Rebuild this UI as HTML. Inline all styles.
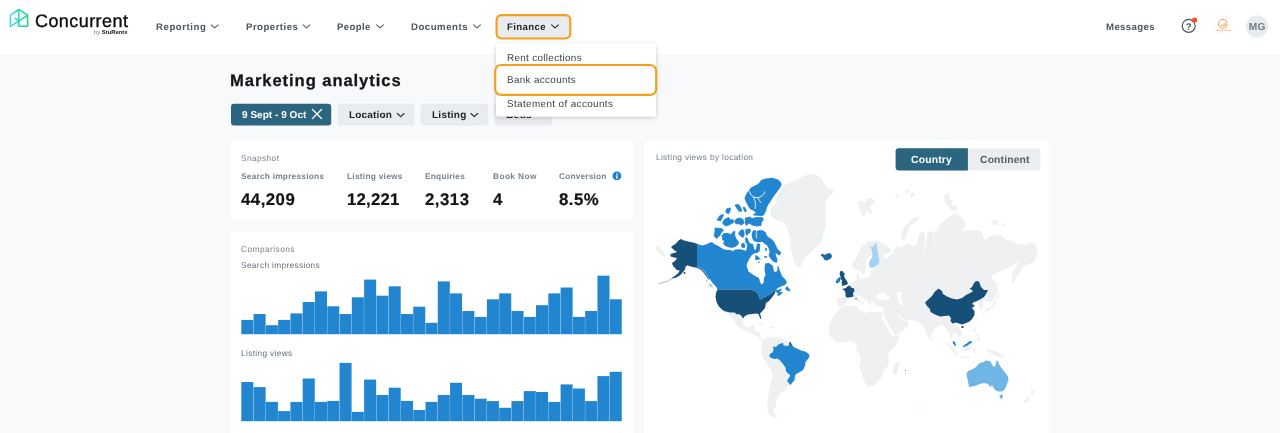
<!DOCTYPE html>
<html><head><meta charset="utf-8">
<style>
*{box-sizing:border-box;margin:0;padding:0}
html,body{width:1280px;height:433px;overflow:hidden;background:#f8f9fa;font-family:"Liberation Sans",sans-serif;}
.abs{position:absolute;white-space:nowrap;line-height:1;will-change:transform;text-rendering:geometricPrecision}
#hdr{position:absolute;left:0;top:0;width:1280px;height:54px;background:#fff}
.nav{font-weight:bold;font-size:11px;color:#4b5660}
.card{position:absolute;background:#fff;border-radius:5px}
.lbl{font-size:9px;color:#6c757d}
.lblb{font-size:9px;color:#7a848d;font-weight:bold}
.num{font-size:16.5px;font-weight:bold;color:#16191c}
.chip{position:absolute;top:103.5px;height:22px;border-radius:3px;background:#e9ecef}
.chiptxt{font-size:10.5px;font-weight:bold;color:#212529}
.dd{font-size:10.5px;color:#343a40}
</style></head><body>
<div id="hdr"></div>

<svg style="position:absolute;left:0;top:0" width="1280" height="433" viewBox="0 0 1280 433">
<rect x="496.60" y="15.20" width="73.70" height="23.30" rx="4.90" fill="#e9ecef" stroke="#f5a01d" stroke-width="2.2" />
<rect x="231.00" y="103.70" width="100.20" height="21.80" rx="3" fill="#2b6580" />
<rect x="337.50" y="103.70" width="77.00" height="21.80" rx="3" fill="#e9ecef" />
<rect x="420.60" y="103.70" width="67.60" height="21.80" rx="3" fill="#e9ecef" />
<rect x="494.30" y="103.70" width="57.90" height="21.80" rx="3" fill="#e9ecef" />
<rect x="229.60" y="140.00" width="403.80" height="80.50" rx="5" fill="#fff" />
<rect x="229.60" y="231.60" width="403.80" height="238.40" rx="5" fill="#fff" />
<rect x="644.60" y="140.00" width="404.00" height="330.00" rx="5" fill="#fff" />
<rect x="895.60" y="148.20" width="144.70" height="22.30" rx="3" fill="#ebedf0" />
<path fill="#2b6580" d="M898.6 148.2 H967.9 V170.5 H898.6 a3 3 0 0 1 -3 -3 V151.2 a3 3 0 0 1 3 -3Z"/>
</svg>
<!-- logo -->
<svg class="abs" style="left:0;top:0" width="140" height="54" viewBox="0 0 140 54">
<defs><linearGradient id="lg" x1="10" y1="0" x2="28" y2="0" gradientUnits="userSpaceOnUse"><stop offset="0" stop-color="#3fd9fb"/><stop offset="0.5" stop-color="#2ed8b5"/><stop offset="1" stop-color="#1fd672"/></linearGradient></defs>
<g fill="none" stroke="url(#lg)" stroke-width="1.55" stroke-linejoin="round" stroke-linecap="round">
<path d="M10.4 26.3 L10.4 15.1 L18.8 9.5 L27.6 15.1 L27.6 26.3 L18.8 26.3 L18.8 9.5"/>
<path d="M10.4 26.3 L27.4 15.6"/>
<path d="M15.1 18.2 L17.9 20.6"/>
</g></svg>
<div class="abs" id="bytxt" style="left:93.7px;top:30.6px;font-size:5.8px;color:#777;letter-spacing:0.02px">by <b style="color:#222">StuRents</b></div>

<!-- nav -->
<svg class="abs" style="left:0;top:0" width="600" height="54" fill="none" stroke="#56616b" stroke-width="1.1" stroke-linecap="round" stroke-linejoin="round">
<path d="M211.3 24.8 l3.4 3.1 l3.4 -3.1"/>
<path d="M303.1 24.8 l3.4 3.1 l3.4 -3.1"/>
<path d="M376.6 24.8 l3.4 3.1 l3.4 -3.1"/>
<path d="M473.6 24.8 l3.4 3.1 l3.4 -3.1"/>
<path stroke="#212529" d="M551.6 24.8 l3.4 3.1 l3.4 -3.1"/>
</svg>
<svg class="abs" style="left:1170px;top:0" width="110" height="54">
<circle cx="18.7" cy="25.9" r="6.5" fill="none" stroke="#4a545e" stroke-width="1.15"/>
<text x="18.7" y="29.5" font-family="Liberation Sans" font-weight="bold" font-size="9.6" text-anchor="middle" fill="#4a545e">?</text>
<circle cx="24.6" cy="20" r="2.6" fill="#ff4a26"/>
<circle cx="52.8" cy="23.8" r="4.4" fill="#fff" stroke="#f19a45" stroke-width="1"/>
<path d="M50 26.3 L52 24.2 L53.2 25 L55.6 22 L55.6 26.3 Z" fill="#f5b77c"/>
<path d="M45.5 30.4 H60.8" fill="none" stroke="#f7b87d" stroke-width="1.2" stroke-dasharray="1.1 0.5"/>
<path d="M49.5 32.4 H57" fill="none" stroke="#fbd9b6" stroke-width="0.6" stroke-dasharray="0.8 0.4"/>
<circle cx="87" cy="26.3" r="11.1" fill="#e9ecef"/>
<text x="87.2" y="29.8" font-family="Liberation Sans" font-weight="bold" font-size="10.2" letter-spacing="0.15" text-anchor="middle" fill="#6e7a84">MG</text>
</svg>

<!-- heading + chips -->
<svg class="abs" style="left:310px;top:106px" width="16" height="16" fill="none" stroke="#fff" stroke-width="1.3" stroke-linecap="round"><path d="M2.5 3.5 l9 9 M11.5 3.5 l-9 9"/></svg>
<div class="abs chiptxt" id="c4" style="left:505.5px;top:109.5px">Beds</div>
<svg class="abs" style="left:0;top:100px" width="600" height="30" fill="none" stroke="#212529" stroke-width="1.1" stroke-linecap="round" stroke-linejoin="round">
<path d="M397.3 13.5 l3.4 3.1 l3.4 -3.1"/>
<path d="M470.9 13.5 l3.4 3.1 l3.4 -3.1"/>
</svg>

<!-- cards -->

<svg class="abs" style="left:611.5px;top:171px" width="11" height="11"><circle cx="4.9" cy="4.9" r="4.4" fill="#1c7ed6"/><rect x="4.2" y="4.2" width="1.4" height="3.5" fill="#fff"/><rect x="4.2" y="2.2" width="1.4" height="1.3" fill="#fff"/></svg>

<svg class="abs" style="left:0;top:0" width="640" height="433" fill="#2185d0" shape-rendering="auto">
<rect x="241.30" y="319.9" width="12.03" height="14.3"/><rect x="253.58" y="314.0" width="12.03" height="20.2"/><rect x="265.86" y="325.2" width="12.03" height="9.0"/><rect x="278.14" y="319.9" width="12.03" height="14.3"/><rect x="290.42" y="313.4" width="12.03" height="20.8"/><rect x="302.70" y="302.0" width="12.03" height="32.2"/><rect x="314.98" y="291.4" width="12.03" height="42.8"/><rect x="327.26" y="306.3" width="12.03" height="27.9"/><rect x="339.55" y="314.0" width="12.03" height="20.2"/><rect x="351.83" y="297.3" width="12.03" height="36.9"/><rect x="364.11" y="279.6" width="12.03" height="54.6"/><rect x="376.39" y="295.7" width="12.03" height="38.5"/><rect x="388.67" y="286.3" width="12.03" height="47.9"/><rect x="400.95" y="314.0" width="12.03" height="20.2"/><rect x="413.23" y="306.7" width="12.03" height="27.5"/><rect x="425.51" y="322.8" width="12.03" height="11.4"/><rect x="437.79" y="281.4" width="12.03" height="52.8"/><rect x="450.07" y="293.4" width="12.03" height="40.8"/><rect x="462.35" y="311.0" width="12.03" height="23.2"/><rect x="474.63" y="316.9" width="12.03" height="17.3"/><rect x="486.91" y="299.3" width="12.03" height="34.9"/><rect x="499.19" y="293.4" width="12.03" height="40.8"/><rect x="511.47" y="311.0" width="12.03" height="23.2"/><rect x="523.75" y="316.9" width="12.03" height="17.3"/><rect x="536.04" y="305.2" width="12.03" height="29.0"/><rect x="548.32" y="293.4" width="12.03" height="40.8"/><rect x="560.60" y="287.5" width="12.03" height="46.7"/><rect x="572.88" y="316.9" width="12.03" height="17.3"/><rect x="585.16" y="311.0" width="12.03" height="23.2"/><rect x="597.44" y="275.7" width="12.03" height="58.5"/><rect x="609.72" y="299.3" width="12.03" height="34.9"/>
<rect x="241.30" y="382.0" width="12.03" height="39.2"/><rect x="253.58" y="387.1" width="12.03" height="34.1"/><rect x="265.86" y="401.9" width="12.03" height="19.3"/><rect x="278.14" y="411.1" width="12.03" height="10.1"/><rect x="290.42" y="401.9" width="12.03" height="19.3"/><rect x="302.70" y="378.5" width="12.03" height="42.7"/><rect x="314.98" y="401.9" width="12.03" height="19.3"/><rect x="327.26" y="400.9" width="12.03" height="20.3"/><rect x="339.55" y="362.9" width="12.03" height="58.3"/><rect x="351.83" y="411.9" width="12.03" height="9.3"/><rect x="364.11" y="379.6" width="12.03" height="41.6"/><rect x="376.39" y="395.0" width="12.03" height="26.2"/><rect x="388.67" y="387.7" width="12.03" height="33.5"/><rect x="400.95" y="400.9" width="12.03" height="20.3"/><rect x="413.23" y="410.0" width="12.03" height="11.2"/><rect x="425.51" y="401.9" width="12.03" height="19.3"/><rect x="437.79" y="395.0" width="12.03" height="26.2"/><rect x="450.07" y="382.8" width="12.03" height="38.4"/><rect x="462.35" y="395.0" width="12.03" height="26.2"/><rect x="474.63" y="398.7" width="12.03" height="22.5"/><rect x="486.91" y="401.1" width="12.03" height="20.1"/><rect x="499.19" y="407.8" width="12.03" height="13.4"/><rect x="511.47" y="401.1" width="12.03" height="20.1"/><rect x="523.75" y="391.1" width="12.03" height="30.1"/><rect x="536.04" y="392.0" width="12.03" height="29.2"/><rect x="548.32" y="401.9" width="12.03" height="19.3"/><rect x="560.60" y="384.4" width="12.03" height="36.8"/><rect x="572.88" y="388.5" width="12.03" height="32.7"/><rect x="585.16" y="401.1" width="12.03" height="20.1"/><rect x="597.44" y="376.1" width="12.03" height="45.1"/><rect x="609.72" y="371.8" width="12.03" height="49.4"/>
</svg>


<svg class="abs" style="left:0;top:0" width="1280" height="433" viewBox="0 0 1280 433">
<path fill="#eef0f2" d="M806 175 L812 173.5 L818 175.5 L823 180 L823.5 183 L826 186 L829 189 L834 189.5 L832 194 L828 198 L826 201 L825 208 L826.5 215 L825 222 L825.5 227 L823 233 L822 239 L820 243 L816.5 247 L813 250 L809 254 L805 258 L802 263 L800 268 L798 266.5 L795 264 L793.5 259 L792 253 L790 247 L791 243 L789.5 237 L788 231 L787.5 228 L786 226 L783 222 L778 220.5 L773 218 L770 212 L771 208 L777 202 L776 199 L778 194 L782 188 L785 185 L791 182.5 L798 179Z"/>
<path fill="#eef0f2" d="M858 202 L861 201 L865 202 L867 198.5 L871 198 L875 200 L873 204 L870 206 L872 213 L870 214 L867 210 L864 217 L862 215 L860 209 L858.5 205Z"/>
<path fill="#eef0f2" d="M724 311 L730 312.5 L734.5 312.5 L737 314.5 L739 314 L741.5 316 L743 318.5 L743 323 L744.5 326.5 L747.5 328 L751 326.5 L753 324.5 L755.5 325 L754.5 328 L754 330.5 L757.5 331.5 L760 333 L760.5 335.5 L761 338 L762.5 340 L765.5 340.5 L768 340 L765 342 L762 341.5 L759.5 339 L757 336 L754 334 L750 332.5 L747 331.5 L743 329.5 L739 327 L736 324.5 L734 320 L731 317 L728 314 L725 312.5Z"/>
<path fill="#eef0f2" d="M763 339.5 L766 337 L770 336.5 L774 337.5 L780 337 L783 339 L786 341 L789 342 L791.5 343 L793.5 347 L797 348.5 L801 350.5 L805 351.5 L808.5 353.5 L809.5 356 L808 359 L805.5 362 L805 366 L803 370 L799 372.5 L796 374 L795 376 L794.5 380 L792 383 L790.5 385 L787 387 L785 391 L780 393 L778 397 L775.5 402 L776.5 405 L773.5 409 L774 413 L777.5 417 L774 417.5 L770 415.5 L767.5 411 L767 406 L768 398 L769.5 390 L771 382 L772.5 376 L772 372 L770 368 L767 364 L764 359 L761.5 354 L761 350 L762 345 L763 340Z"/>
<path fill="#eef0f2" d="M840 308 L844 306.5 L850 306 L857 306 L858 309 L862 311 L866 313.5 L869 311.5 L874 312 L880 312.5 L882 312 L882 317 L884.5 323 L888 329.5 L892 335.5 L893 336.5 L897 336 L900 335 L899 339 L896 345 L892 349 L889 352 L888 355 L889 360 L889 364 L886 368 L883 370 L884 373 L882 375 L881 378 L878 382 L874 385.5 L868 386.5 L866 385 L864 380 L862 376 L862 373 L860 369 L859 365 L861 360 L859 353 L856 349 L857 344.5 L854 343 L850 341 L844 342 L837 342.5 L833 339 L830 336 L828.5 332 L828.5 327 L830 322 L833 318 L836 313Z"/>
<path fill="#eef0f2" d="M898.5 361 L899.5 364 L898 369 L896.5 374 L894.5 375.5 L892.5 374 L893 369 L894 365 L896.5 363Z"/>
<path fill="#eef0f2" d="M861 247 L863 245 L868 242 L873 240.5 L878 240.5 L882 243 L886 245 L890 248 L891 252 L888 254 L885 253.5 L884 257 L886 259 L890 256 L893 252 L895 248 L898 246 L900 248 L904 246 L908 243 L910 245 L916 246 L918 240 L920 233 L923 231 L925 236 L925.5 243 L927 240 L927 233 L932 231 L935 232 L938 229 L939 225 L945 220 L950 216 L956 213 L960 216 L964 220 L966 225 L962 230 L968 231 L977 230 L982 232 L984 239 L986 240 L988 237 L994 235 L997 234 L1002 236 L1007 240 L1014 241 L1016 244 L1024 244 L1026 246 L1027 243 L1032 243 L1036 245 L1037 250 L1037 255 L1035 261 L1031 263.5 L1026 265 L1022 268 L1018.5 274 L1015.5 279.5 L1012.5 283.5 L1011.5 279 L1012.5 273 L1015 268 L1018 264 L1020 261.5 L1016 263 L1013 265 L1008 268 L1002 270 L995 274 L990 278 L994 280 L997 284 L997 292 L995 298 L992 302 L988 302 L984 301 L982 302 L983 306 L982 310 L980 309.5 L979 305 L977 303 L976 301.5 L974 302 L972 304 L975 305.5 L972 308 L974.5 311 L974.5 315 L972 319 L969.5 321.5 L966 323 L962 324.5 L959 323.5 L957 324 L959 327 L961.5 331 L962 335 L960 337 L957 336 L956 333 L954 334 L952 336 L952 337 L952.5 341.5 L954.5 341.5 L955.5 343.5 L956 346 L954.5 345.5 L953 343.5 L951.5 340 L950 336 L949 332 L946.5 330 L945.5 327 L944 326 L943 325.5 L940 325 L937 327 L933 331 L931.5 335 L930.5 339.5 L929 339 L927 335 L925 331 L924 327 L921 324 L916 321 L910 320 L906 319.5 L907 320.5 L909 323 L906 328 L900 333 L895 335.5 L893.5 333.5 L890 327.5 L886.5 321 L884 316 L883 313 L883 311 L884 307 L880 306.5 L875 306 L874 302 L871 301 L871 306 L869.5 304 L868 302 L866 300 L864 299 L860 296 L858 294 L856 296 L859 299 L862 302 L864.5 304 L863 305 L861 302.5 L858 300.5 L855 298 L853.5 296.5 L851.5 297 L849 297.5 L846.5 297.5 L848 300 L846 303 L844 306 L840 306.5 L837.5 305 L837 301 L837 298 L841 297.5 L845.5 297 L845.5 292.5 L844.5 290.5 L842 289 L844.5 288.5 L846.5 287.5 L848 286 L850 285.5 L851 283.5 L854 281.5 L857 279 L856.5 275 L858 272 L859 276 L860 279 L864 278.5 L869 277 L871 274 L870 271 L874 269.5 L872 268 L879 267 L875 266.5 L871 268 L869 266 L869 262.5 L871 259 L872.5 256 L872 255 L869 257 L866 261 L865.5 265 L866 268 L865 272 L863 275 L860 272 L859 269 L856 271 L853 268 L852 265 L852.5 262 L855 260 L858 254Z"/>
<path fill="#eef0f2" d="M918 217 L919.5 218 L915 222 L910 226 L907.5 232 L906 238 L904 241 L901 237 L902 230 L905 226 L910 221 L914 218Z"/>
<path fill="#eef0f2" d="M944 197 L947 193 L949 194 L950 199 L953 201 L952 206 L956 205 L958 209 L955 211 L951 210 L948 206 L945 203Z"/>
<path fill="#eef0f2" d="M895 195 L898 194 L899 196 L896 198Z"/>
<path fill="#eef0f2" d="M905 191 L908 189 L909 192 L906 194Z"/>
<path fill="#eef0f2" d="M910 195 L914 192 L915 195 L911 198Z"/>
<path fill="#eef0f2" d="M991 221 L995 220 L999 222 L997 225 L993 225Z"/>
<path fill="#eef0f2" d="M1001 223 L1005 224.5 L1004 226 L1001 225Z"/>
<path fill="#eef0f2" d="M656 245.5 L659.5 247 L663 251 L666 256 L664.5 257.5 L661 255.5 L658 252.5 L656 250Z"/>
<path fill="#eef0f2" d="M656 238 L657.5 238 L657.5 239.5 L656 239.5Z"/>
<path fill="#eef0f2" d="M984.5 311.5 L986 308.5 L990 307 L993 304 L995 300 L996.5 300.5 L995 305 L992 308 L989 309.5 L986 312Z"/>
<path fill="#eef0f2" d="M996 297 L999 296 L1000 298 L997.5 299.5Z"/>
<path fill="#eef0f2" d="M983 311.5 L984.5 312 L984.5 314.5 L983 314Z"/>
<path fill="#eef0f2" d="M997.5 282 L998.5 282 L999 290 L998.5 296 L997.5 296 L998 289Z"/>
<path fill="#eef0f2" d="M977 318 L978.2 318 L978 321 L977 320.5Z"/>
<path fill="#eef0f2" d="M974 328 L976 329 L976 333 L974.5 332Z"/>
<path fill="#eef0f2" d="M976 334 L978.5 335 L978.5 337.5 L976.5 336.5Z"/>
<path fill="#eef0f2" d="M977 338 L980 338 L980 341 L977.5 341Z"/>
<path fill="#eef0f2" d="M962.5 347 L972 343 L971.5 347 L969 351 L965 351.5 L962.5 349Z"/>
<path fill="#eef0f2" d="M947 342 L952 347 L957 352 L959 355 L957.5 355.5 L952 351 L947.5 344.5Z"/>
<path fill="#eef0f2" d="M960 356 L965 356.2 L971 357.5 L971 358.5 L965 357.8 L960 357.3Z"/>
<path fill="#eef0f2" d="M972.5 348 L976 348 L975 350 L976 353 L974 353 L973 350.5Z"/>
<path fill="#eef0f2" d="M986 349 L992 350 L998 352 L1003 356 L1005 358 L1000 357.5 L996 356 L992 354 L988 352Z"/>
<path fill="#eef0f2" d="M1030 387 L1031.5 389.5 L1034.5 391.5 L1033 394.5 L1031 395 L1031.5 392Z"/>
<path fill="#eef0f2" d="M1030.5 395.5 L1029 399 L1026 403 L1023 402.5 L1025 400 L1028 396.5Z"/>
<path fill="#eef0f2" d="M931 338 L932.5 338.5 L932.5 341 L931.2 341Z"/>
<path fill="#eef0f2" d="M757 323 L761 323.6 L765 325.5 L764.5 326.3 L760.5 324.8 L757 324Z"/>
<path fill="#eef0f2" d="M769 326.5 L774 326.8 L774 328 L769 328Z"/>
<path fill="#eef0f2" d="M782.5 411.5 L785 411.5 L785 412.5 L782.5 412.5Z"/>
<path fill="#eef0f2" d="M919 407 L921 407 L921 409 L919 409Z"/>
<path fill="#ffffff" d="M876 296 L880 293 L884 292 L886 295 L890 297 L889 299.5 L882 300 L877 299Z"/>
<path fill="#ffffff" d="M897 293 L900 292 L902 293 L901 297 L902 301 L903 305 L899.5 305 L899 300 L897 296Z"/>
<path fill="#ffffff" d="M897.5 313 L899 314 L901 317.5 L903.5 319.5 L906 319.3 L906 320.5 L903 321 L900 318.5 L898 315.5Z"/>
<path fill="#2185d0" d="M697 243.8 L702 245.5 L706 244.5 L709 243 L712 242 L714 244 L718 245.7 L723.6 249.3 L728 250 L732 250.2 L732.6 251.8 L734.9 249.6 L740.5 249.3 L744.4 250.2 L745.5 251.2 L746.7 248.5 L747.2 244 L745.6 242.9 L745 239.5 L746.1 237 L747.8 238.4 L748.9 241.7 L750 243.2 L752.9 244 L754 247.4 L754.6 250.2 L756 249 L756.8 244.5 L757.5 243.2 L760.2 244 L760 248 L759.6 251.3 L757 253 L754 253.5 L751.7 255.2 L749.5 258.6 L748.4 260.9 L747.2 263.1 L746.5 266 L747 267 L748.5 271.5 L752 274 L756 276.5 L759 278 L760 282 L761.5 284.5 L763.5 283 L764 278 L765.5 275 L764.5 270 L765 264.5 L765 263.5 L769 263 L772 265 L773 266.5 L774 271.5 L776 272 L777.5 270 L777.5 266.5 L778 265 L780 271 L782 276 L785 279 L787 282.5 L785 285 L781 286.5 L778 288 L775.5 290 L779 289.5 L782 288.5 L781 290.5 L779.5 291.5 L781 292 L783 291.5 L781.5 294 L778.5 296 L777 295 L778 293 L776.5 292.5 L775.5 291.5 L774.5 290.5 L772 293 L768 295.5 L763 298 L760 299.5 L759 297 L758 294 L755.5 291.5 L752 290 L746 289.5 L717.5 289.5 L716.3 287 L713 283.5 L710 279.5 L707.5 275.5 L705 272 L701.5 268.5 L697 266.5Z"/>
<path fill="#2185d0" d="M785 289 L787 286 L789.5 289 L790.5 291.5 L787 290.5Z"/>
<path fill="#2185d0" d="M755.4 255.2 L757.4 255.8 L759.6 258.1 L761 259.7 L758.5 259.2 L756.8 260.3 L755.1 259.2Z"/>
<path fill="#2185d0" d="M764.1 256.3 L767 256.1 L767 257.8 L764.3 257.8Z"/>
<path fill="#2185d0" d="M765.2 248.2 L767 248 L767 250.7 L765.2 250.5Z"/>
<path fill="#2185d0" d="M758 261.7 L759.6 261.7 L759.6 263.1 L758 263.1Z"/>
<path fill="#2185d0" d="M761 180 L766 178.5 L772 177.8 L778 179.5 L781.2 182.5 L781.5 185.5 L779.5 188.5 L777.5 191.5 L775.5 194 L774 196 L770 202 L767 207 L766 211 L764 215 L762 216 L754 215.5 L752.5 214.5 L756 213 L754 211 L750 209 L748 206 L746 202 L744.5 198.5 L745.5 195.5 L747.5 192 L750 189 L751 187.5 L755 185.5 L758 184 L760 182Z"/>
<path fill="#2185d0" stroke="#2185d0" stroke-width="0.8" stroke-linejoin="round" d="M735 205 L738.5 204.5 L740.5 207 L742 211 L739.5 211.5 L737 208.5Z"/>
<path fill="#2185d0" stroke="#2185d0" stroke-width="0.8" stroke-linejoin="round" d="M743 207.5 L744.5 207 L746.5 211 L745 212Z"/>
<path fill="#2185d0" stroke="#2185d0" stroke-width="0.8" stroke-linejoin="round" d="M725.5 212 L727 208.5 L730.5 208 L730 211 L728.5 214Z"/>
<path fill="#2185d0" stroke="#2185d0" stroke-width="0.8" stroke-linejoin="round" d="M717 220 L720 215.5 L723.5 214.5 L722.5 217.5 L720.5 221Z"/>
<path fill="#2185d0" stroke="#2185d0" stroke-width="0.8" stroke-linejoin="round" d="M722.5 222.5 L725 219 L729 217.5 L730 220 L733 219.5 L733.5 222.5 L729 225 L726 226 L723.5 224.5Z"/>
<path fill="#2185d0" stroke="#2185d0" stroke-width="0.8" stroke-linejoin="round" d="M734.5 221 L737 218.5 L740 218 L743 219.5 L744 223 L741.5 225 L738 223.5 L736 224Z"/>
<path fill="#2185d0" stroke="#2185d0" stroke-width="0.8" stroke-linejoin="round" d="M745.5 218 L750 217 L752 218.5 L756 217.5 L762 217.3 L763.5 219.5 L761.5 222 L761 225.5 L757 226 L752 225 L749 223 L746.5 225.5 L745 223Z"/>
<path fill="#2185d0" stroke="#2185d0" stroke-width="0.8" stroke-linejoin="round" d="M715 228 L721.5 228.5 L723.5 230 L721 233 L719.5 236 L716.5 238.5 L714 235.5 L715 232Z"/>
<path fill="#2185d0" d="M721.4 236.1 L723.6 233.3 L728.1 232.7 L730.4 234.4 L732.6 232.2 L734.3 230.5 L735.4 231.6 L734.9 235 L736.6 238.9 L739.1 242.3 L738.2 244.6 L736 246.5 L733 247.8 L729.2 247.6 L725.3 246 L723.1 243.5 L724.2 241.2 L721.9 239.5 L722.2 237.2Z"/>
<path fill="#2185d0" stroke="#2185d0" stroke-width="0.8" stroke-linejoin="round" d="M738.5 233.3 L740.5 230.5 L742.7 229.4 L743.9 231.6 L744.2 235 L742.7 237.8 L741.1 236.1 L739.4 235Z"/>
<path fill="#2185d0" stroke="#2185d0" stroke-width="0.8" stroke-linejoin="round" d="M745.8 229.4 L750.3 229.1 L750.1 232.2 L747.8 233.9 L746.7 235.6 L745.8 232.7Z"/>
<path fill="#2185d0" stroke="#2185d0" stroke-width="0.8" stroke-linejoin="round" d="M741.5 244 L744 243.2 L745 245.5 L744.5 247.5 L742 247.5Z"/>
<path fill="#2185d0" d="M751.7 235 L752.3 231.6 L754.6 229.9 L756.2 230.5 L757.4 231.1 L759.6 229.9 L763 230.5 L765.8 232.2 L766.4 235 L768.6 237.2 L771.4 238.9 L774.2 241.7 L775.4 244.6 L777.6 249.1 L781.3 252.4 L779.3 255.8 L777.6 254.1 L775.4 253.6 L776.5 256.9 L777.6 260.3 L776.5 263.1 L773.1 261.4 L770.3 258.6 L768.6 255.2 L769.7 251.9 L768.6 248.5 L766.9 245.1 L764.7 244 L762.4 241.7 L758.5 242.3 L754 241.2 L752.3 238.4Z"/>
<path fill="#164f77" d="M717.5 289.5 L746 289.5 L752 290 L755.5 291.5 L758 294 L759 297 L760 299.5 L763 298 L768 295.5 L772 293 L774.5 290.5 L775.5 291.5 L774.5 294 L771.5 298 L769 301 L766 303 L765.5 305.5 L765 308 L762.5 311 L760 313.5 L761 317 L761.5 319.5 L760 318 L758.5 314 L756 313.5 L752 314 L748 314.5 L745 316 L743 318.5 L741.5 316 L739 314 L737 314.5 L734.5 312.5 L730 312.5 L724 311 L721.5 309 L718.5 306 L716.5 302 L715.5 297 L716 293Z"/>
<path fill="#164f77" d="M697 243.8 L693 242.5 L688 241.5 L684 240.5 L681 239 L678.5 240.5 L676 243.5 L673 245.5 L671 247 L674 250 L677 252 L674 253 L670.5 254 L670.5 256.5 L674 257.5 L677 258 L675 261 L672 263 L673 266 L675.3 268.3 L676.3 269.8 L679.4 270.5 L679.4 271.5 L677.3 274.1 L674 276.5 L672 277.8 L672.5 278.6 L676.3 277.5 L680.4 275 L683.4 271.5 L685 269.5 L685.5 266.8 L687.5 265.2 L690 266.3 L693.6 267.3 L697 267.8Z"/>
<path fill="#164f77" d="M683.6 272 L685.3 271.8 L685.3 273.8 L683.8 274Z"/>
<path fill="#6fa9dc" d="M705.8 280.2 L707 280.5 L707.5 282 L706.3 281.8Z"/>
<path fill="#6fa9dc" d="M709 283.5 L711 285 L713 286.8 L712.3 287.3 L710 285.8 L708.6 284.2Z"/>
<path fill="#2185d0" d="M773 346.5 L776 347 L779 344 L783 343 L783.5 345.5 L787 346 L789.5 345 L792 344.5 L793.5 347 L797 348.5 L801 350.5 L805 351.5 L808.5 353.5 L809.5 356 L808 359 L805.5 362 L805 366 L803 370 L799 372.5 L796 374 L795 376 L794.5 380 L792 383 L790.5 385 L787 381 L790 376 L790 375 L786 371.5 L785.5 367.5 L783 364 L780 360.5 L777.5 358.5 L774.5 359 L771 358 L769 356 L770.5 353.5 L773 352 L773.5 349Z"/>
<path fill="#164f77" d="M789 342 L790.5 342.2 L791.5 344 L791.5 345.5 L789.5 345Z"/>
<path fill="#1b69a5" d="M821 254.5 L823 253.5 L824 255 L827.5 253.5 L830 253 L832 255.5 L831.5 258 L829 259.5 L826.5 260.5 L824 259.5 L823 257 L821 256Z"/>
<path fill="#a6d3f2" d="M869 245.5 L871 247 L874 246.5 L874.5 243.5 L876.5 243.5 L877 248 L878 253 L878.5 258 L879.5 261.5 L878 264.5 L875 266.5 L871 268 L869 266 L869 262.5 L871 259 L872.5 256 L872 251 L871 248Z"/>
<path fill="#164f77" d="M840 271.6 L842.2 270.7 L843.5 272.5 L844.9 273.8 L844 276 L844.9 278.2 L846.2 279.9 L847.5 282.1 L847.9 283.4 L846.6 284.7 L844 285.4 L841.8 285.9 L842.2 283.9 L841.4 282.5 L842.2 280.8 L840.9 279 L840.5 276.4 L839.6 274.2Z"/>
<path fill="#2185d0" d="M836.1 283.4 L835.8 281.2 L837 279 L839.2 277.7 L840.5 279 L840 281.2 L838.3 283Z"/>
<path fill="#164f77" d="M838.7 277.6 L840.5 277.6 L840.6 279.2 L839.3 279.2Z"/>
<path fill="#164f77" d="M842 289 L844.5 288.5 L846.5 287.5 L848 286 L850 285.5 L851 287.5 L854 288.5 L854.5 291 L853 293 L853.5 296.5 L851.5 297 L849 297.5 L846.5 297.5 L845.5 296 L845.5 292.5 L844.5 290.5Z"/>
<path fill="#164f77" d="M855.5 298 L856.5 298 L856.5 299.5 L855.5 299.5Z"/>
<path fill="#6f8fa8" d="M905 370 L906 370 L906 371 L905 371Z"/>
<path fill="#164f77" d="M925 302.5 L932 296 L934.5 292 L938.5 288.5 L942 291 L943 294 L947 296.5 L952 298.5 L957 299.5 L962 298 L966 295 L972 292 L973 290.5 L969.5 289 L972 287 L974 283 L976 281 L979 281.5 L981 287 L984 290 L988 290 L986 294 L984 297 L980 299.5 L976 301.5 L974 302 L972 304 L975 305.5 L972 308 L974.5 311 L974.5 315 L972 319 L969.5 321.5 L966 323 L962 324.5 L959 323.5 L956 322.5 L952.5 323.5 L950.5 321 L951 318 L949 315.5 L945 316 L940 316.5 L935 314.5 L930.5 312 L930 309 L927 306Z"/>
<path fill="#164f77" d="M961.5 326 L963.5 326 L963.5 328 L961.5 328Z"/>
<path fill="#2185d0" d="M952.5 341.5 L954.5 341.5 L955.5 343.5 L956 346 L954.5 345.5 L953 343.5Z"/>
<path fill="#2185d0" d="M962.5 346.5 L965 344.5 L967.5 343 L969.5 341 L971 341 L972 342.5 L969.5 344 L967.5 345.5 L965 346.5 L963.5 347Z"/>
<path fill="#6fb5e5" d="M966.5 373.5 L968 371 L972 369.5 L976 367 L978.5 364 L981 362.5 L984 362 L985.5 360.5 L990 361 L991 363 L993 366 L994.5 367 L996 364 L996.5 360 L998 361.5 L1000 366 L1003 370 L1006 373.5 L1008 376.5 L1008.5 380 L1007 384 L1005 389 L1002 391.5 L998 391.5 L995 390 L993 387 L992 385 L990.5 387 L989.5 386 L988 384 L984 383 L980 384 L976 385.5 L972 386.5 L969 387 L968.5 384 L967.5 379 L966.8 376Z"/>
<path fill="#6fb5e5" d="M999.5 395 L1003 394.5 L1002.5 398 L1001.5 399 L1000 397.5Z"/>
<path fill="none" stroke="#fff" stroke-width="0.9" stroke-linecap="round" stroke-linejoin="round" d="M749 191 L751 194.5 L753.5 197.2 L758 197.8 L761 196.5 L763.5 194.5 L765 191.8"/>
<path fill="none" stroke="#fff" stroke-width="0.8" stroke-linecap="round" stroke-linejoin="round" d="M758 197.8 L759 200 L761 202.5"/>
<path fill="none" stroke="#fff" stroke-width="0.8" stroke-linecap="round" stroke-linejoin="round" d="M753.5 197.2 L755 201 L755.5 205 L755 208.5"/>
<path fill="none" stroke="#fff" stroke-width="0.7" stroke-linecap="round" stroke-linejoin="round" d="M756.6 230.6 L756.2 234 L756.6 238"/>
<path fill="none" stroke="#7d9db6" stroke-width="0.7" stroke-linecap="round" stroke-linejoin="round" d="M672.3 278.2 L668.2 281 L662.1 282.8 L658.6 283.5"/>
<path fill="none" stroke="#3f6f96" stroke-width="1.3" stroke-linecap="round" stroke-linejoin="round" d="M697.5 267.3 L701 269.1 L704.3 272.6 L706.8 276 L708.7 278.8"/>
<path fill="none" stroke="#fff" stroke-width="0.9" stroke-linecap="round" stroke-linejoin="round" d="M925.8 232 L925.6 240 L925.4 248 L923.5 251.5 L921.8 252.8"/>
<path fill="none" stroke="#fff" stroke-width="0.7" stroke-linecap="round" stroke-linejoin="round" d="M933.4 233 L933.2 238 L934 242"/>
</svg>

<div class="abs" id="logotxt" style="left:34.94px;top:12px;font-size:18.0px;font-weight:normal;color:#0d0d0d;letter-spacing:0.429px;-webkit-text-stroke:0.35px #0d0d0d">Concurrent</div>
<div class="abs" id="n1" style="left:156.46px;top:23px;font-size:9.6px;font-weight:bold;color:#4b5660;letter-spacing:0.561px;">Reporting</div>
<div class="abs" id="n2" style="left:245.66px;top:23px;font-size:9.6px;font-weight:bold;color:#4b5660;letter-spacing:0.492px;">Properties</div>
<div class="abs" id="n3" style="left:337.36px;top:23px;font-size:9.6px;font-weight:bold;color:#4b5660;letter-spacing:0.396px;">People</div>
<div class="abs" id="n4" style="left:410.96px;top:23px;font-size:9.6px;font-weight:bold;color:#4b5660;letter-spacing:0.534px;">Documents</div>
<div class="abs" id="n5" style="left:507.06px;top:23px;font-size:9.6px;font-weight:bold;color:#23282d;letter-spacing:0.394px;">Finance</div>
<div class="abs" id="msg" style="left:1106.16px;top:23px;font-size:9.6px;font-weight:bold;color:#4b5660;letter-spacing:0.394px;">Messages</div>
<div class="abs" id="h1" style="left:230.47px;top:73px;font-size:16.6px;font-weight:bold;color:#111418;letter-spacing:0.924px;-webkit-text-stroke:0.25px #111418">Marketing analytics</div>
<div class="abs" id="c1" style="left:241.60px;top:111px;font-size:10.0px;font-weight:bold;color:#ffffff;letter-spacing:0.034px;">9 Sept - 9 Oct</div>
<div class="abs" id="c2" style="left:348.83px;top:111px;font-size:10.0px;font-weight:bold;color:#212529;letter-spacing:0.185px;">Location</div>
<div class="abs" id="c3" style="left:431.63px;top:111px;font-size:10.0px;font-weight:bold;color:#212529;letter-spacing:0.259px;">Listing</div>
<div class="abs" id="s0" style="left:240.59px;top:154px;font-size:8.3px;font-weight:normal;color:#777f87;letter-spacing:0.412px;">Snapshot</div>
<div class="abs" id="s1" style="left:240.69px;top:172px;font-size:8.3px;font-weight:bold;color:#78838d;letter-spacing:0.240px;">Search impressions</div>
<div class="abs" id="s2" style="left:346.53px;top:172px;font-size:8.3px;font-weight:bold;color:#78838d;letter-spacing:0.271px;">Listing views</div>
<div class="abs" id="s3" style="left:425.33px;top:172px;font-size:8.3px;font-weight:bold;color:#78838d;letter-spacing:0.255px;">Enquiries</div>
<div class="abs" id="s4" style="left:492.53px;top:172px;font-size:8.3px;font-weight:bold;color:#78838d;letter-spacing:0.411px;">Book Now</div>
<div class="abs" id="s5" style="left:559.49px;top:172px;font-size:8.3px;font-weight:bold;color:#78838d;letter-spacing:0.192px;">Conversion</div>
<div class="abs" id="v1" style="left:241.33px;top:192px;font-size:16.8px;font-weight:bold;color:#121417;letter-spacing:0.484px;-webkit-text-stroke:0.2px #121417">44,209</div>
<div class="abs" id="v2" style="left:346.82px;top:192px;font-size:16.8px;font-weight:bold;color:#121417;letter-spacing:0.184px;-webkit-text-stroke:0.2px #121417">12,221</div>
<div class="abs" id="v3" style="left:425.32px;top:192px;font-size:16.8px;font-weight:bold;color:#121417;letter-spacing:0.497px;-webkit-text-stroke:0.2px #121417">2,313</div>
<div class="abs" id="v4" style="left:492.53px;top:192px;font-size:16.8px;font-weight:bold;color:#121417;letter-spacing:0.000px;-webkit-text-stroke:0.2px #121417">4</div>
<div class="abs" id="v5" style="left:559.31px;top:192px;font-size:16.8px;font-weight:bold;color:#121417;letter-spacing:0.501px;-webkit-text-stroke:0.2px #121417">8.5%</div>
<div class="abs" id="k0" style="left:240.83px;top:245px;font-size:8.3px;font-weight:normal;color:#777f87;letter-spacing:0.460px;">Comparisons</div>
<div class="abs" id="k1" style="left:240.59px;top:261px;font-size:8.3px;font-weight:normal;color:#646e78;letter-spacing:0.345px;">Search impressions</div>
<div class="abs" id="k2" style="left:240.91px;top:349px;font-size:8.3px;font-weight:normal;color:#646e78;letter-spacing:0.348px;">Listing views</div>
<div class="abs" id="m0" style="left:656.01px;top:153px;font-size:8.3px;font-weight:normal;color:#777f87;letter-spacing:0.331px;">Listing views by location</div>
<div class="abs" id="b1" style="left:911.43px;top:156px;font-size:10.4px;font-weight:bold;color:#ffffff;letter-spacing:0.171px;">Country</div>
<div class="abs" id="b2" style="left:979.53px;top:156px;font-size:10.4px;font-weight:bold;color:#555d66;letter-spacing:0.131px;">Continent</div>
<!-- dropdown -->
<svg style="position:absolute;left:0;top:0" width="1280" height="433" viewBox="0 0 1280 433">
<defs><filter id="sh" x="-10%" y="-20%" width="120%" height="150%"><feDropShadow dx="0" dy="1.2" stdDeviation="2.2" flood-color="#000" flood-opacity="0.2"/></filter></defs>
<rect x="496.00" y="43.20" width="160.00" height="73.20" rx="3" fill="#fff" filter="url(#sh)"/>
<rect x="495.20" y="65.00" width="161.00" height="29.90" rx="5.90" fill="#fff" stroke="#f5a01d" stroke-width="2.2" />
</svg>

<div class="abs" id="d1" style="left:506.89px;top:54px;font-size:9.9px;font-weight:normal;color:#3b4249;letter-spacing:0.324px;">Rent collections</div>
<div class="abs" id="d2" style="left:506.89px;top:76px;font-size:9.9px;font-weight:normal;color:#3b4249;letter-spacing:0.335px;">Bank accounts</div>
<div class="abs" id="d3" style="left:506.92px;top:100px;font-size:9.9px;font-weight:normal;color:#3b4249;letter-spacing:0.384px;">Statement of accounts</div>
</body></html>
